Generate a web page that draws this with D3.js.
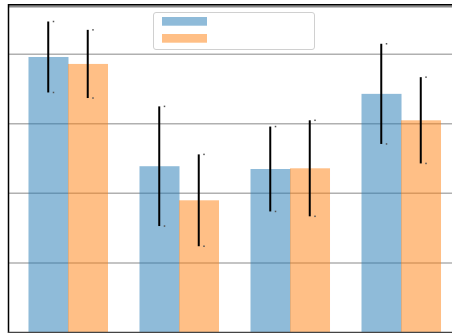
<!DOCTYPE html>
<html>
<head>
<meta charset="utf-8">
<script src="https://cdn.jsdelivr.net/npm/d3@7"></script>
<style>
  html, body { margin: 0; padding: 0; background: #fff; }
  svg { display: block; }
</style>
</head>
<body>
<svg id="chart" width="452" height="333"></svg>
<script>
// Grouped bars with symmetric error bars
const categories = ["A", "B", "C", "D"];
const seriesKeys = ["s1", "s2"];
const series1 = [39.6, 23.9, 23.5, 34.3];
const series2 = [38.6, 19.0, 23.6, 30.5];
const errors1 = [5.1, 8.6, 6.1, 7.2];
const errors2 = [4.9, 6.6, 6.9, 6.2];
const gridValues = [10, 20, 30, 40];
const colors = ["#1f77b4", "#ff7f0e"];

const svg = d3.select("#chart");

const y = d3.scaleLinear().domain([0, 47]).range([332.5, 5.5]);
const x0 = d3.scaleBand().domain(categories).range([12.5, 456.5])
  .paddingInner(0.2883).paddingOuter(0.144);
const x1 = d3.scaleBand().domain(seriesKeys).range([0, x0.bandwidth()]);

const values = [series1, series2];
const errs = [errors1, errors2];

// horizontal grid lines (behind bars)
svg.append("g").selectAll("line").data(gridValues).join("line")
  .attr("x1", 8).attr("x2", 452)
  .attr("y1", d => y(d)).attr("y2", d => y(d))
  .attr("stroke", "#b0b0b0").attr("stroke-width", 1.5);

// bars
seriesKeys.forEach((k, si) => {
  svg.append("g").selectAll("rect").data(categories).join("rect")
    .attr("x", c => x0(c) + x1(k))
    .attr("width", x1.bandwidth() + 0.5)
    .attr("y", (c, i) => y(values[si][i]))
    .attr("height", (c, i) => y(0) - y(values[si][i]))
    .attr("fill", colors[si]).attr("fill-opacity", 0.5);
});

// error bars
seriesKeys.forEach((k, si) => {
  const g = svg.append("g");
  categories.forEach((c, i) => {
    const cx = x0(c) + x1(k) + x1.bandwidth() / 2;
    const v = values[si][i], e = errs[si][i];
    g.append("line")
      .attr("x1", cx).attr("x2", cx)
      .attr("y1", y(v + e)).attr("y2", y(v - e))
      .attr("stroke", "#000").attr("stroke-width", 2);
    [v + e, v - e].forEach(t => {
      g.append("rect")
        .attr("x", cx + 4.5).attr("y", y(t) - 0.75)
        .attr("width", 1.5).attr("height", 1.5)
        .attr("fill", "#555");
    });
  });
});

// frame lines
svg.append("line").attr("x1", 8).attr("x2", 452).attr("y1", 6.5).attr("y2", 6.5)
  .attr("stroke", "#8a8a8a").attr("stroke-width", 2);
svg.append("line").attr("x1", 8).attr("x2", 452).attr("y1", 4.8).attr("y2", 4.8)
  .attr("stroke", "#000").attr("stroke-width", 1.5);
svg.append("line").attr("x1", 8.5).attr("x2", 8.5).attr("y1", 4).attr("y2", 333)
  .attr("stroke", "#000").attr("stroke-width", 1.5);
svg.append("line").attr("x1", 8).attr("x2", 452).attr("y1", 332.5).attr("y2", 332.5)
  .attr("stroke", "#444").attr("stroke-width", 1.5);

// legend (patches only)
const legend = svg.append("g");
legend.append("rect")
  .attr("x", 153.5).attr("y", 12.5).attr("width", 161).attr("height", 37)
  .attr("rx", 2.5).attr("fill", "#fff").attr("fill-opacity", 0.8)
  .attr("stroke", "#d0d0d0").attr("stroke-width", 1);
seriesKeys.forEach((k, si) => {
  legend.append("rect")
    .attr("x", 162).attr("y", 17 + si * 17)
    .attr("width", 45).attr("height", 8.7)
    .attr("fill", colors[si]).attr("fill-opacity", 0.5);
});
</script>
</body>
</html>
